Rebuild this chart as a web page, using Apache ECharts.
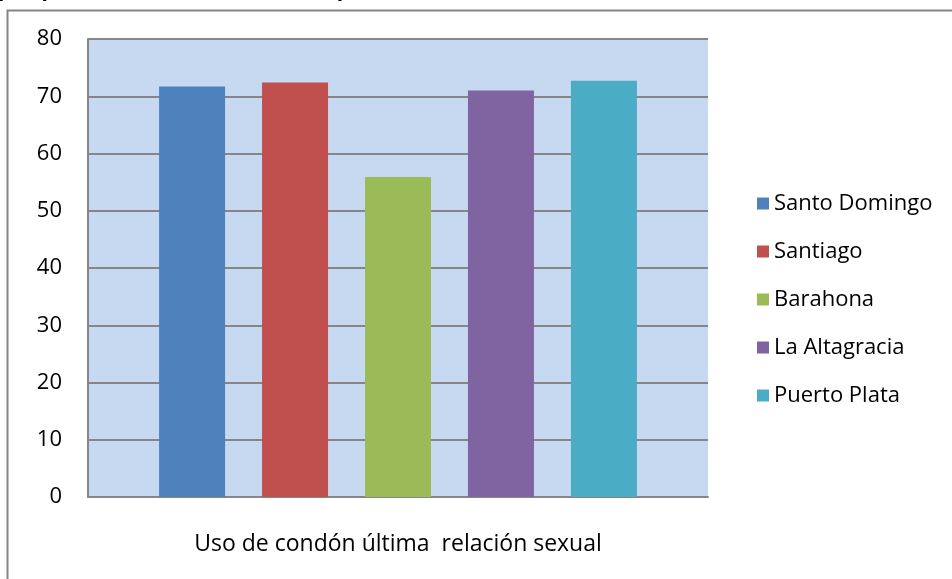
<!DOCTYPE html>
<html>
<head>
<meta charset="utf-8">
<script src="https://cdn.jsdelivr.net/npm/echarts@6/dist/echarts.min.js"></script>
<style>
  html, body { margin: 0; padding: 0; background: #fff; }
  #chart { width: 952px; height: 579px; }
</style>
</head>
<body>
<div id="chart"></div>
<script>
// Provinces (series) and the single indicator category
const categories = ['Uso de condón última  relación sexual'];
const provinces = ['Santo Domingo', 'Santiago', 'Barahona', 'La Altagracia', 'Puerto Plata'];
const values = [71.7, 72.4, 55.9, 71.0, 72.7];
const colors = ['#4F81BD', '#C0504D', '#9BBB59', '#8064A2', '#4BACC6'];
const yTicks = { min: 0, max: 80, interval: 10 };

const FONT = '"Open Sans", "Liberation Sans", sans-serif';
const GRID_LINE = '#868686';

const chart = echarts.init(document.getElementById('chart'), null, { renderer: 'canvas' });

const series = provinces.map((name, i) => ({
  name,
  type: 'bar',
  data: [values[i]],
  barWidth: 66,
  barGap: '56%',
  itemStyle: { color: colors[i] }
}));

chart.setOption({
  animation: false,
  backgroundColor: '#ffffff',
  textStyle: { fontFamily: FONT },
  graphic: [
    {
      type: 'rect',
      silent: true,
      shape: { x: 7.5, y: 10.5, width: 1000, height: 600 },
      style: { fill: 'none', stroke: GRID_LINE, lineWidth: 2 }
    },
    {
      type: 'text',
      silent: true,
      left: -2,
      top: -22,
      style: {
        text: 'por provincia de ubicación del puesto, %',
        font: 'bold 23px "Liberation Sans", Arial, sans-serif',
        fill: '#000'
      }
    }
  ],
  grid: {
    left: 88, right: 244, top: 39, bottom: 82,
    show: true, backgroundColor: '#C6D9F1', borderWidth: 0
  },
  legend: {
    orient: 'vertical',
    left: 752,
    top: 187,
    itemWidth: 12,
    itemHeight: 12,
    itemGap: 25,
    icon: 'rect',
    textStyle: { fontFamily: FONT, fontSize: 22, color: '#000', lineHeight: 23 },
    data: provinces
  },
  xAxis: {
    type: 'category',
    data: categories,
    axisLine: { show: true, lineStyle: { color: GRID_LINE, width: 2 } },
    axisTick: { show: false },
    axisLabel: { fontFamily: FONT, fontSize: 23, color: '#000', margin: 36 }
  },
  yAxis: {
    type: 'value',
    min: yTicks.min, max: yTicks.max, interval: yTicks.interval,
    axisLine: { show: true, lineStyle: { color: GRID_LINE, width: 2 } },
    axisTick: { show: false },
    splitLine: { show: true, lineStyle: { color: GRID_LINE, width: 2 } },
    axisLabel: { fontFamily: FONT, fontSize: 22, color: '#000', margin: 26 }
  },
  series
});
</script>
</body>
</html>
